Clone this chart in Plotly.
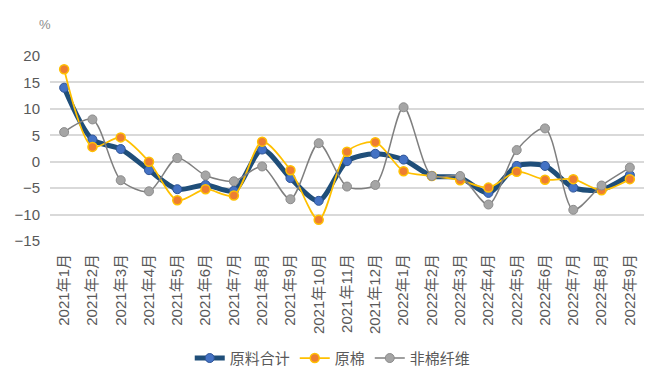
import plotly.graph_objects as go

categories = ["2021年1月", "2021年2月", "2021年3月", "2021年4月", "2021年5月", "2021年6月",
              "2021年7月", "2021年8月", "2021年9月", "2021年10月", "2021年11月", "2021年12月",
              "2022年1月", "2022年2月", "2022年3月", "2022年4月", "2022年5月", "2022年6月",
              "2022年7月", "2022年8月", "2022年9月"]
raw_total = [14.0, 4.2, 2.4, -1.6, -5.2, -4.4, -5.5, 2.3, -3.1, -7.4, 0.1, 1.5,
             0.4, -2.7, -3.0, -5.9, -0.8, -0.8, -4.9, -5.3, -2.5]
cotton = [17.5, 2.8, 4.6, 0.0, -7.3, -5.2, -6.4, 3.8, -1.6, -11.0, 1.9, 3.7,
          -1.8, -2.7, -3.5, -4.9, -1.9, -3.4, -3.3, -5.4, -3.3]
non_cotton = [5.6, 8.0, -3.5, -5.6, 0.7, -2.6, -3.7, -0.9, -7.1, 3.5, -4.7, -4.4,
              10.3, -2.7, -2.7, -8.1, 2.2, 6.3, -9.1, -4.5, -1.1]
y_ticks = [-15, -10, -5, 0, 5, 10, 15, 20]

FONT = "Liberation Sans, Noto Sans CJK SC, sans-serif"
GRAY_TXT = "#595959"

fig = go.Figure()
fig.add_trace(go.Scatter(
    x=categories, y=raw_total, name="原料合计", mode="lines+markers",
    line=dict(color="#1F4E79", width=5, shape="spline", smoothing=0.8),
    marker=dict(size=9, color="#4472C4", line=dict(color="#2F5597", width=1))))
fig.add_trace(go.Scatter(
    x=categories, y=cotton, name="原棉", mode="lines+markers",
    line=dict(color="#FFC000", width=1.75, shape="spline", smoothing=0.8),
    marker=dict(size=9, color="#ED7D31", line=dict(color="#FFC000", width=1.5))))
fig.add_trace(go.Scatter(
    x=categories, y=non_cotton, name="非棉纤维", mode="lines+markers",
    line=dict(color="#7F7F7F", width=1.5, shape="spline", smoothing=0.8),
    marker=dict(size=9, color="#A5A5A5", line=dict(color="#8C8C8C", width=1))))

fig.update_layout(
    width=660, height=379,
    margin=dict(l=42, r=24, t=48, b=146, autoexpand=False),
    paper_bgcolor="white", plot_bgcolor="white",
    font=dict(family=FONT, color=GRAY_TXT),
    showlegend=True,
    legend=dict(orientation="h", x=0.476, xanchor="center", y=-0.634, yanchor="middle",
                font=dict(size=15, color=GRAY_TXT), itemwidth=30,
                traceorder="normal"),
    xaxis=dict(type="category", range=[-0.5, len(categories) - 0.5],
               showgrid=False, showline=False, zeroline=False,
               automargin=False,
               tickangle=-90, tickfont=dict(size=15, color=GRAY_TXT),
               ticks="outside", ticklen=6, tickcolor="rgba(0,0,0,0)"),
    yaxis=dict(range=[-15, 20], tickvals=y_ticks, showgrid=True, gridcolor="#D9D9D9",
               gridwidth=1.5, zeroline=False, showline=False, automargin=False,
               tickfont=dict(size=15, color=GRAY_TXT), ticks="outside", ticklen=6,
               tickcolor="rgba(0,0,0,0)"),
    annotations=[dict(text="%", x=-0.008, y=1.168, xref="paper", yref="paper",
                      xanchor="center", yanchor="middle",
                      showarrow=False, font=dict(size=13, color="#8C8C8C"))],
)

fig.write_html("out.html")
